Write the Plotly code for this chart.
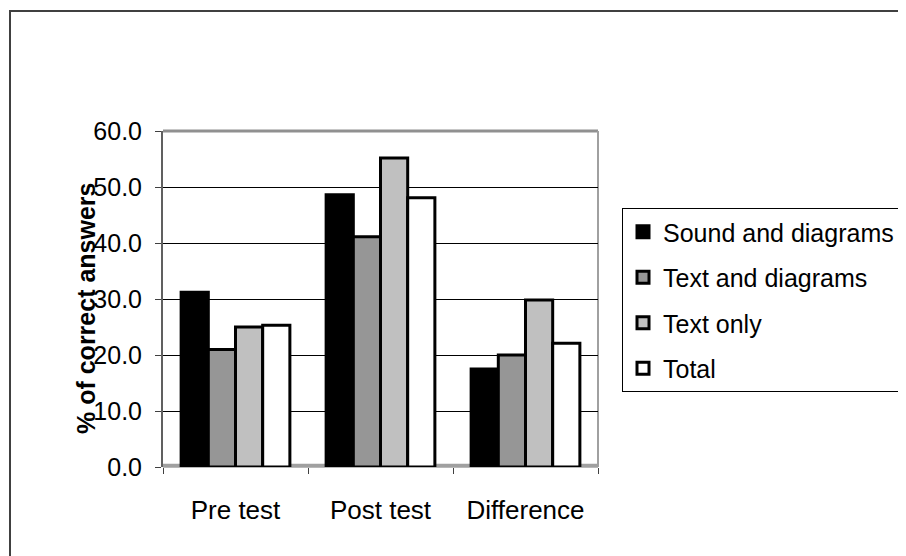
import plotly.graph_objects as go

categories = ["Pre test", "Post test", "Difference"]
series_names = ["Sound and diagrams", "Text and diagrams", "Text only", "Total"]
sound_and_diagrams = [31.2, 48.6, 17.5]
text_and_diagrams = [21.0, 41.1, 20.0]
text_only = [25.0, 55.2, 29.8]
total = [25.3, 48.1, 22.1]
y_ticks = [0, 10, 20, 30, 40, 50, 60]

colors = ["#000000", "#969696", "#C0C0C0", "#FFFFFF"]
values = [sound_and_diagrams, text_and_diagrams, text_only, total]

FONT = "Liberation Sans, Arial, sans-serif"

fig = go.Figure()
for i, (name, vals) in enumerate(zip(series_names, values)):
    fig.add_trace(go.Bar(
        x=categories, y=vals, name=name,
        marker=dict(color=colors[i], line=dict(color="#000000", width=3)),
        legendgroup=name,
    ))

OFF = 8  # page offset of the figure in the browser
W, H = 906, 556
L, R, T, B = 163 - OFF, 598 - OFF, 131 - OFF, 467 - OFF
pw, ph = R - L, B - T

def px(x):
    return (x - OFF - L) / pw

def py(y):
    return (B - (y - OFF)) / ph

fig.update_layout(
    width=W, height=H,
    margin=dict(l=L, r=W - R, t=T, b=H - B, pad=0),
    paper_bgcolor="white", plot_bgcolor="white",
    barmode="group", bargap=0.25, bargroupgap=0,
    font=dict(family=FONT, size=25, color="black"),
    showlegend=True,
    legend=dict(
        x=px(622), y=py(208), xanchor="left", yanchor="top",
        bordercolor="black", borderwidth=1, bgcolor="white",
        font=dict(family=FONT, size=25, color="black"),
        traceorder="grouped", tracegroupgap=10,
        itemwidth=30,
    ),
    xaxis=dict(
        showgrid=False, ticks="outside", tickson="boundaries",
        ticklen=6, tickcolor="#404040", tickwidth=1,
        tickfont=dict(family=FONT, size=26),
        ticklabelstandoff=25,
        showline=False,
    ),
    yaxis=dict(
        range=[0, 60], tickvals=y_ticks, tickformat=".1f",
        showgrid=True, gridcolor="#000000", gridwidth=1,
        ticks="outside", ticklen=6, tickcolor="#404040",
        tickfont=dict(family=FONT, size=25),
        ticklabelstandoff=8,
        showline=True, linecolor="#606060", linewidth=2,
        zeroline=False,
    ),
    shapes=[
        dict(type="line", xref="paper", yref="paper", x0=0, x1=1, y0=1, y1=1,
             line=dict(color="#909090", width=3), layer="between"),
        dict(type="line", xref="paper", yref="paper", x0=1, x1=1, y0=0, y1=1,
             line=dict(color="#A0A0A0", width=2), layer="between"),
        dict(type="line", xref="paper", yref="paper", x0=0, x1=1, y0=0.004, y1=0.004,
             line=dict(color="#A0A0A0", width=4), layer="between"),
        dict(type="rect", xref="paper", yref="paper",
             x0=px(10), x1=px(1000), y0=py(700), y1=py(11),
             line=dict(color="#404040", width=2), fillcolor="rgba(0,0,0,0)"),
    ],
    annotations=[
        dict(text="<b>% of correct answers</b>", xref="paper", yref="paper",
             x=px(86), y=py(308), xanchor="center", yanchor="middle",
             textangle=-90, showarrow=False,
             font=dict(family=FONT, size=25, color="black")),
    ],
)

fig.write_html("out.html")
